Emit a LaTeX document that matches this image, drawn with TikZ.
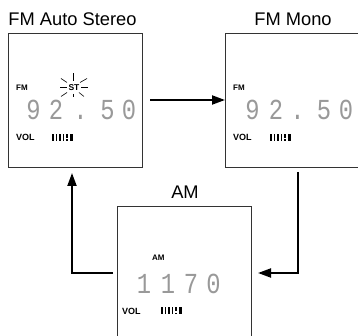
\documentclass[tikz,border=0pt]{standalone}
\usepackage{fontspec}
\setmainfont{Liberation Sans}
\newfontfamily\lcdfont{Liberation Mono}
\usetikzlibrary{arrows.meta,calc}
\tikzset{
  panel/.style={draw=black!80, line width=0.9pt, minimum width=134pt, minimum height=134pt, inner sep=0pt, outer sep=0pt},
  title/.style={font=\fontsize{18.3}{19}\selectfont, anchor=base, inner sep=0pt},
  tag/.style={font=\bfseries\fontsize{8}{9}\selectfont, anchor=base west, inner sep=0pt},
  vol/.style={font=\bfseries\fontsize{9}{10}\selectfont, anchor=base west, inner sep=0pt},
  digit/.style={font=\lcdfont\fontsize{29}{29}\selectfont, text=black!40, anchor=base, inner sep=0pt, xscale=0.82, transform shape},
  conn/.style={line width=2pt, -{Triangle[length=13pt,width=9pt]}},
  ray/.style={line width=0.6pt},
  bar/.style={fill=black},
}
\newcommand{\volbars}[1]{%
  \fill[bar] ($(#1)+(0,0)$) rectangle ++(1.6,-7);
  \fill[bar] ($(#1)+(3.5,0)$) rectangle ++(1.6,-7);
  \fill[bar] ($(#1)+(7,0)$) rectangle ++(1.6,-7);
  \fill[bar] ($(#1)+(10.5,0)$) rectangle ++(1.6,-7);
  \fill[bar] ($(#1)+(14,-3)$) rectangle ++(1.6,-4);
  \fill[bar] ($(#1)+(14,0)$) rectangle ++(1.6,-1.5);
  \fill[bar] ($(#1)+(17.5,0)$) rectangle ++(3.5,-7);
}
\begin{document}
\begin{tikzpicture}[x=1pt, y=-1pt]
\useasboundingbox (0,0) rectangle (358,336);
\clip (0,0) rectangle (358,336);

% panels
\node[panel] (b1) at (75,100) {};
\node[panel] (b2) at (292,100) {};
\node[panel] (b3) at (184,273) {};

% titles
\node[title] (t1) at (72.5,25.5) {FM Auto Stereo};
\node[title] (t2) at (293,25.5) {FM Mono};
\node[title] (t3) at (185,199) {AM};

% panel 1 contents
\node[tag] (fm1) at (16,91) {FM};
\node[font=\bfseries\fontsize{8.5}{9}\selectfont, anchor=base, inner sep=0pt] (st) at (74,91) {ST};
\coordinate (stc) at (74,87.5);
\draw[ray] ($(stc)+(-14,0)$) -- ($(stc)+(-7,0)$);
\draw[ray] ($(stc)+(7,0)$) -- ($(stc)+(14,0)$);
\draw[ray] ($(stc)+(-0.5,-14)$) -- ($(stc)+(-0.5,-6)$);
\draw[ray] ($(stc)+(-13,-9)$) -- ($(stc)+(-7,-5)$);
\draw[ray] ($(stc)+(13,-9)$) -- ($(stc)+(6,-5)$);
\draw[ray] ($(stc)+(-13,9)$) -- ($(stc)+(-7,5)$);
\draw[ray] ($(stc)+(10,9)$) -- ($(stc)+(5,5)$);
\draw[ray] ($(stc)+(-0.5,6.5)$) -- ($(stc)+(-0.5,9.5)$);
\node[digit] (d11) at (33.5,120) {9};
\node[digit] (d12) at (56,120) {2};
\node[digit] (d13) at (80.5,120) {.};
\node[digit] (d14) at (107.5,120) {5};
\node[digit] (d15) at (129,120) {0};
\node[vol] (v1) at (16,141) {VOL};
\coordinate (bars1) at (52,141);
\volbars{bars1}

% panel 2 contents
\node[tag] (fm2) at (233,91) {FM};
\node[digit] (d21) at (252.5,120) {9};
\node[digit] (d22) at (276,120) {2};
\node[digit] (d23) at (297.5,120) {.};
\node[digit] (d24) at (324,120) {5};
\node[digit] (d25) at (346,120) {0};
\node[vol] (v2) at (233,141) {VOL};
\coordinate (bars2) at (270,141);
\volbars{bars2}

% panel 3 contents
\node[tag] (am3) at (152,261) {AM};
\node[digit] (d31) at (144,293) {1};
\node[digit] (d32) at (168,293) {1};
\node[digit] (d33) at (191,293) {7};
\node[digit] (d34) at (213.5,293) {0};
\node[vol] (v3) at (122,314) {VOL};
\coordinate (bars3) at (161,314);
\volbars{bars3}

% connectors
\draw[conn] ([xshift=8pt]b1.east) -- (b2.west);
\draw[conn] ([xshift=6pt,yshift=-5pt]b2.south) |- ([xshift=7pt]b3.east);
\draw[conn] ([xshift=-4pt]b3.west) -| ([xshift=-3pt,yshift=-6pt]b1.south);
\end{tikzpicture}
\end{document}
